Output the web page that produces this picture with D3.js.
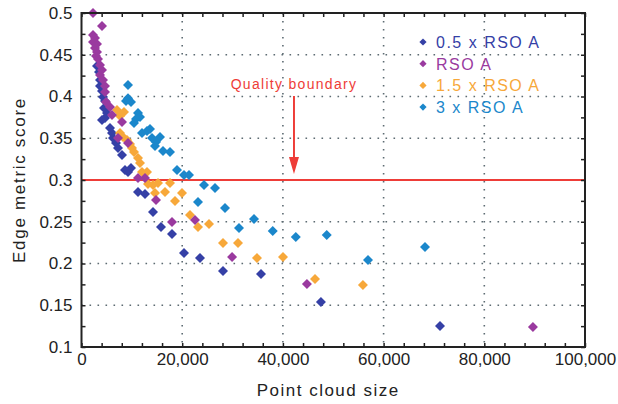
<!DOCTYPE html>
<html>
<head>
<meta charset="utf-8">
<script src="https://cdn.jsdelivr.net/npm/d3@7"></script>
<style>
  html, body { margin: 0; padding: 0; background: #fff; }
  svg { display: block; }
  text { font-family: "Liberation Sans", Arial, sans-serif; }
</style>
</head>
<body>
<svg id="chart" width="618" height="404"></svg>
<script>
// Point cloud size vs. edge metric score, four RSO A scalings
const seriesNames = ["0.5 x RSO A", "RSO A", "1.5 x RSO A", "3 x RSO A"];
const seriesColors = ["#3540a6", "#9a3a9f", "#f7a83a", "#1b87cb"];

const halfRso = [
  [3080, 0.4365], [3480, 0.4293], [3670, 0.4198], [3670, 0.4126], [4070, 0.4066],
  [4270, 0.3994], [4670, 0.3946], [4470, 0.3862], [5060, 0.3802], [4670, 0.3743],
  [4070, 0.3719], [5660, 0.3623], [6060, 0.3563], [6260, 0.3503], [6850, 0.3443],
  [7250, 0.3383], [8040, 0.3299], [8640, 0.3120], [9830, 0.3144], [9240, 0.3096],
  [11220, 0.2856], [12610, 0.2832], [14200, 0.2617], [15790, 0.2437], [17970, 0.2353],
  [20360, 0.2126], [23530, 0.2066], [28100, 0.1910], [35650, 0.1874], [47560, 0.1539],
  [71200, 0.1251]
];

const rso = [
  [2280, 0.5000], [4070, 0.4844], [2280, 0.4737], [2680, 0.4700], [2280, 0.4653],
  [3080, 0.4629], [2680, 0.4580], [3080, 0.4533], [2880, 0.4485], [3280, 0.4449],
  [3670, 0.4377], [4070, 0.4317], [3670, 0.4257], [4270, 0.4198], [4670, 0.4126],
  [4670, 0.4054], [4870, 0.3934], [5660, 0.3874], [6060, 0.3778], [8040, 0.3695],
  [7250, 0.3503], [9240, 0.3443], [11220, 0.3024], [12610, 0.3024], [14800, 0.2760],
  [17970, 0.2497], [22540, 0.2521], [29900, 0.2078], [44780, 0.1754], [89660, 0.1240]
];

const oneHalfRso = [
  [7050, 0.3838], [7650, 0.3766], [8440, 0.3814], [7650, 0.3563], [8240, 0.3515],
  [9040, 0.3479], [9630, 0.3431], [10030, 0.3383], [10430, 0.3335], [11220, 0.3263],
  [11620, 0.3204], [13010, 0.3096], [12020, 0.3096], [13210, 0.2952], [14200, 0.2940],
  [15190, 0.2964], [17580, 0.2964], [14600, 0.2844], [16580, 0.2856], [19960, 0.2844],
  [18570, 0.2749], [21550, 0.2581], [23140, 0.2437], [25320, 0.2473], [28100, 0.2246],
  [31080, 0.2246], [34850, 0.2066], [40020, 0.2078], [46370, 0.1814], [55900, 0.1743]
];

const tripleRso = [
  [9240, 0.4138], [9240, 0.3980], [9830, 0.3934], [8840, 0.3946], [11220, 0.3802],
  [10820, 0.3731], [10430, 0.3683], [11620, 0.3755], [12020, 0.3563], [13010, 0.3587],
  [13600, 0.3611], [14000, 0.3503], [15590, 0.3515], [14800, 0.3455], [14600, 0.3407],
  [16190, 0.3347], [17580, 0.3335], [18970, 0.3120], [20360, 0.3060], [21350, 0.3060],
  [24330, 0.2940], [26510, 0.2904], [23140, 0.2737], [28500, 0.2665], [34260, 0.2533],
  [31280, 0.2425], [37990, 0.2389], [42560, 0.2317], [48710, 0.2341], [56900, 0.2042],
  [68220, 0.2198]
];

const xTicks = [0, 20000, 40000, 60000, 80000, 100000];
const yTicks = [0.1, 0.15, 0.2, 0.25, 0.3, 0.35, 0.4, 0.45, 0.5];
const qualityBoundary = 0.3;
const boundaryLabel = "Quality boundary";
const boundaryLabelX = 42000;

const svg = d3.select("#chart");
const W = 618, H = 404;
const m = { top: 13, right: 33, bottom: 57, left: 81.5 };
const iw = W - m.left - m.right, ih = H - m.top - m.bottom;

const x = d3.scaleLinear().domain([0, 100000]).range([0, iw]);
const y = d3.scaleLinear().domain([0.1, 0.5]).range([ih, 0]);

const g = svg.append("g").attr("transform", `translate(${m.left},${m.top})`);

// dotted grid
const gridColor = "#5d6b72";
g.append("g").selectAll("line").data(xTicks.slice(1, -1)).join("line")
  .attr("x1", d => x(d)).attr("x2", d => x(d)).attr("y1", 0).attr("y2", ih)
  .attr("stroke", gridColor).attr("stroke-width", 1.6).attr("stroke-dasharray", "1.6,6.4");
g.append("g").selectAll("line").data(yTicks.slice(1, -1)).join("line")
  .attr("x1", 0).attr("x2", iw).attr("y1", d => y(d)).attr("y2", d => y(d))
  .attr("stroke", gridColor).attr("stroke-width", 1.6).attr("stroke-dasharray", "1.6,6.4");

// quality boundary line
g.append("line")
  .attr("x1", 0).attr("x2", iw).attr("y1", y(qualityBoundary)).attr("y2", y(qualityBoundary))
  .attr("stroke", "#ee3d38").attr("stroke-width", 2.2);

// boundary label and arrow
const red = "#ee3d38";
g.append("text")
  .attr("x", x(boundaryLabelX) + 1).attr("y", 76)
  .attr("text-anchor", "middle").attr("fill", red)
  .style("font-size", "14px").style("letter-spacing", "1.3px")
  .text(boundaryLabel);
const ax = x(boundaryLabelX) + 1;
g.append("line").attr("x1", ax).attr("x2", ax).attr("y1", 83).attr("y2", 148)
  .attr("stroke", red).attr("stroke-width", 2);
g.append("path")
  .attr("d", `M${ax - 5},${144} L${ax + 5},${144} L${ax},${y(qualityBoundary) - 6} Z`)
  .attr("fill", red);

// points
const diamond = r => `M0,${-r} L${r},0 L0,${r} L${-r},0 Z`;
const allSeries = [halfRso, rso, oneHalfRso, tripleRso];
const drawOrder = [3, 0, 2, 1];
drawOrder.forEach(i => {
  g.append("g").selectAll("path").data(allSeries[i]).join("path")
    .attr("d", diamond(5))
    .attr("transform", d => `translate(${x(d[0])},${y(d[1])})`)
    .attr("fill", seriesColors[i]);
});

// axes with inward ticks on all sides
const xMinor = d3.range(0, 100001, 4000);
const yMinor = d3.range(0, 17).map(i => 0.1 + i * 0.025);
const fmtX = d3.format(",");
const isMajorX = v => Math.abs(v % 20000) < 1e-6;
const isMajorY = v => Math.abs(Math.round(v * 1000) % 50) < 1e-6;

const xAxis = g.append("g").attr("transform", `translate(0,${ih})`)
  .call(d3.axisBottom(x).tickValues(xMinor).tickSizeInner(-4).tickSizeOuter(0).tickPadding(6)
    .tickFormat(v => isMajorX(v) ? fmtX(v) : ""));
const yAxis = g.append("g")
  .call(d3.axisLeft(y).tickValues(yMinor).tickSizeInner(-4).tickSizeOuter(0).tickPadding(9)
    .tickFormat(v => isMajorY(v) ? d3.format("")(+v.toFixed(3)) : ""));
const topAxis = g.append("g")
  .call(d3.axisTop(x).tickValues(xMinor).tickSizeInner(-4).tickSizeOuter(0).tickFormat(""));
const rightAxis = g.append("g").attr("transform", `translate(${iw},0)`)
  .call(d3.axisRight(y).tickValues(yMinor).tickSizeInner(-4).tickSizeOuter(0).tickFormat(""));

[xAxis, yAxis, topAxis, rightAxis].forEach(a => {
  a.select(".domain").remove();
  a.selectAll(".tick line").attr("stroke", "#222").attr("stroke-width", 1.5);
  a.selectAll("text").attr("fill", "#222").style("font-size", "17px")
    .style("font-family", "'Liberation Sans', Arial, sans-serif");
});
xAxis.selectAll("text").attr("dy", "0.71em");

// frame
g.append("rect").attr("x", 0).attr("y", 0).attr("width", iw).attr("height", ih)
  .attr("fill", "none").attr("stroke", "#222").attr("stroke-width", 2);

// axis titles
svg.append("text")
  .attr("x", m.left + x(49000)).attr("y", 396)
  .attr("text-anchor", "middle").attr("fill", "#222")
  .style("font-size", "17px").style("letter-spacing", "1.5px")
  .text("Point cloud size");
svg.append("text")
  .attr("transform", `translate(25,${m.top + y(0.3)}) rotate(-90)`)
  .attr("text-anchor", "middle").attr("fill", "#222")
  .style("font-size", "17px").style("letter-spacing", "1.7px")
  .text("Edge metric score");

// legend
const legend = svg.append("g").attr("transform", "translate(423,42)");
seriesNames.forEach((name, i) => {
  const row = legend.append("g").attr("transform", `translate(0,${i * 21.7})`);
  row.append("path").attr("d", diamond(3.6)).attr("fill", seriesColors[i]);
  row.append("text").attr("x", 13).attr("y", 6)
    .attr("fill", seriesColors[i])
    .style("font-size", "16px").style("letter-spacing", "1.5px")
    .text(name);
});
</script>
</body>
</html>
